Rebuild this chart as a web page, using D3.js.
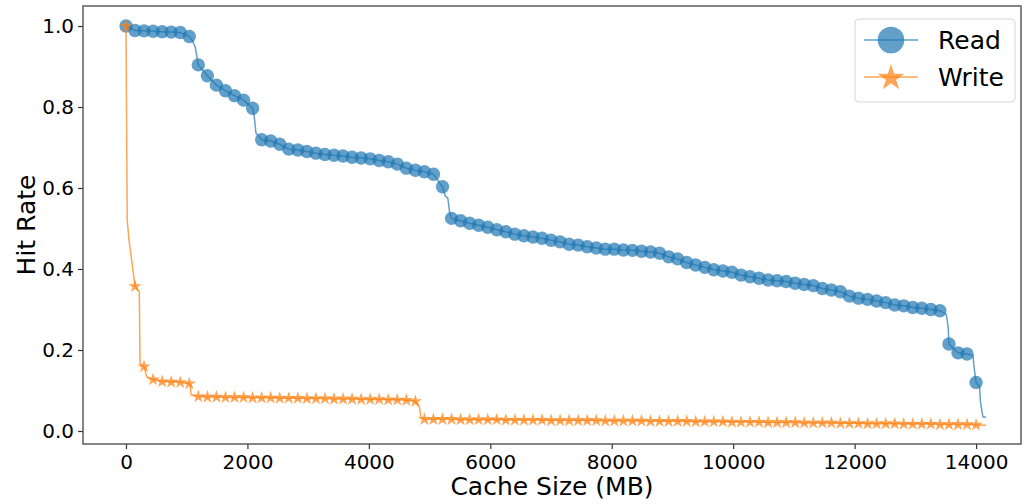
<!DOCTYPE html>
<html>
<head>
<meta charset="utf-8">
<title>Hit Rate vs Cache Size</title>
<style>
    body { margin : 0; background : white; }
    svg { font-family : "DejaVu Sans", sans-serif; }
    .frame { fill : none; stroke : #444; stroke-width : 1.3px; }
    .tick line { stroke : #333; stroke-width : 1.2px; }
    .tick text { fill : black; font-size : 20px; }
    .axislabel { fill : black; font-size : 25px; }
    .readline { fill : none; stroke : #1f77b4; stroke-width : 1.5px; opacity : .7; }
    .writeline { fill : none; stroke : #ff7f0e; stroke-width : 1.5px; opacity : .7; }
    .readmark { fill : #1f77b4; opacity : .7; }
    .writemark { fill : #ff7f0e; opacity : .7; }
    .legendbox { fill : white; fill-opacity : .8; stroke : #d6d6d6; stroke-width : 1px; }
    .legendtext { fill : black; font-size : 25px; }
</style>
</head>
<body>
<script src="https://cdn.jsdelivr.net/npm/d3@7/dist/d3.min.js"></script>
<script>

var SVGwidth = 1024, SVGheight = 504;
var plotLeft = 83, plotRight = 1021, plotTop = 6, plotBottom = 444;

// marker positions: 95 evenly spaced samples from 0 to 14000 MB
var cacheSize = d3.range(95).map(function(i) { return i * 14000 / 94; });

var readHit = [
    1.000, 0.989, 0.988, 0.987, 0.986, 0.985, 0.984, 0.974, 0.904, 0.877,
    0.854, 0.840, 0.828, 0.817, 0.797, 0.719, 0.716, 0.708, 0.696, 0.694,
    0.690, 0.686, 0.683, 0.681, 0.679, 0.676, 0.674, 0.672, 0.668, 0.665,
    0.659, 0.649, 0.644, 0.640, 0.634, 0.603, 0.525, 0.519, 0.513, 0.508,
    0.503, 0.497, 0.492, 0.486, 0.482, 0.479, 0.476, 0.471, 0.467, 0.461,
    0.459, 0.455, 0.452, 0.449, 0.449, 0.447, 0.446, 0.444, 0.442, 0.439,
    0.430, 0.425, 0.416, 0.410, 0.404, 0.398, 0.395, 0.392, 0.385, 0.381,
    0.377, 0.373, 0.371, 0.369, 0.365, 0.362, 0.359, 0.352, 0.348, 0.344,
    0.333, 0.328, 0.325, 0.321, 0.317, 0.311, 0.309, 0.305, 0.303, 0.300,
    0.297, 0.215, 0.193, 0.190, 0.120
];

var writeHit = [
    1.000, 0.357, 0.159, 0.127, 0.122, 0.121, 0.120, 0.117, 0.085, 0.084,
    0.084, 0.083, 0.083, 0.083, 0.082, 0.082, 0.082, 0.081, 0.081, 0.081,
    0.080, 0.080, 0.080, 0.079, 0.079, 0.079, 0.078, 0.078, 0.078, 0.077,
    0.077, 0.076, 0.073, 0.029, 0.029, 0.029, 0.029, 0.028, 0.028, 0.028,
    0.028, 0.028, 0.027, 0.027, 0.027, 0.027, 0.027, 0.026, 0.026, 0.026,
    0.026, 0.026, 0.026, 0.025, 0.025, 0.025, 0.025, 0.025, 0.024, 0.024,
    0.024, 0.024, 0.024, 0.023, 0.023, 0.023, 0.023, 0.022, 0.022, 0.022,
    0.022, 0.021, 0.021, 0.021, 0.021, 0.020, 0.020, 0.020, 0.020, 0.019,
    0.019, 0.019, 0.018, 0.018, 0.018, 0.018, 0.017, 0.017, 0.017, 0.017,
    0.016, 0.016, 0.016, 0.016, 0.015
];

// extra line points between markers (the steep steps and the tails)
var readSteps = [
    [1100, 0.962], [1140, 0.948], [2110, 0.780], [2140, 0.736],
    [5260, 0.580], [5300, 0.575], [5330, 0.540], [13510, 0.288],
    [13540, 0.258], [13950, 0.187], [13965, 0.160], [14057, 0.109],
    [14073, 0.072], [14112, 0.035], [14166, 0.034]
];
var writeSteps = [
    [20, 0.521], [50, 0.472], [219, 0.344], [231, 0.167], [341, 0.134],
    [1060, 0.113], [1070, 0.089], [4830, 0.060], [4860, 0.035], [14166, 0.014]
];

var xTicks = [0, 2000, 4000, 6000, 8000, 10000, 12000, 14000];
var yTicks = [0.0, 0.2, 0.4, 0.6, 0.8, 1.0];

var x = d3.scaleLinear().domain([-708, 14740]).range([plotLeft, plotRight]);
var y = d3.scaleLinear().domain([-0.0321, 1.0494]).range([plotBottom, plotTop]);

var svg = d3.select("body").append("svg")
        .attr("width", SVGwidth)
        .attr("height", SVGheight);

//axes
svg.append("g")
        .attr("transform", "translate(0," + plotBottom + ")")
        .call(d3.axisBottom(x).tickValues(xTicks).tickFormat(d3.format("d")).tickSize(5).tickPadding(6))
        .call(function(g) { g.select(".domain").remove(); });

svg.append("g")
        .attr("transform", "translate(" + plotLeft + ",0)")
        .call(d3.axisLeft(y).tickValues(yTicks).tickFormat(d3.format(".1f")).tickSize(5).tickPadding(4))
        .call(function(g) { g.select(".domain").remove(); });

svg.selectAll("g").attr("font-family", null).attr("font-size", null);

svg.append("text")
        .attr("class", "axislabel")
        .attr("x", (plotLeft + plotRight) / 2)
        .attr("y", 495)
        .attr("text-anchor", "middle")
        .text("Cache Size (MB)");

svg.append("text")
        .attr("class", "axislabel")
        .attr("transform", "translate(35," + ((plotTop + plotBottom) / 2) + ") rotate(-90)")
        .attr("text-anchor", "middle")
        .text("Hit Rate");

//lines: markers plus the step points, sorted by size
function linePoints(values, steps) {
    var pts = cacheSize.map(function(c, i) { return [c, values[i]]; }).concat(steps);
    return pts.sort(function(a, b) { return a[0] - b[0]; });
}
var line = d3.line()
        .x(function(d) { return x(d[0]); })
        .y(function(d) { return y(d[1]); });

function starPath(R) {
    var pts = [];
    for (var k = 0; k < 10; k++) {
        var r = k % 2 ? R * 0.382 : R;
        var a = -Math.PI / 2 + k * Math.PI / 5;
        pts.push([r * Math.cos(a), r * Math.sin(a)]);
    }
    return "M" + pts.join("L") + "Z";
}

var plot = svg.append("g");

plot.append("path")
        .attr("class", "readline")
        .attr("d", line(linePoints(readHit, readSteps)));

plot.selectAll(".readmark")
        .data(readHit)
        .enter().append("circle")
        .attr("class", "readmark")
        .attr("cx", function(d, i) { return x(cacheSize[i]); })
        .attr("cy", function(d) { return y(d); })
        .attr("r", 6.7);

plot.append("path")
        .attr("class", "writeline")
        .attr("d", line(linePoints(writeHit, writeSteps)));

plot.selectAll(".writemark")
        .data(writeHit)
        .enter().append("path")
        .attr("class", "writemark")
        .attr("transform", function(d, i) { return "translate(" + x(cacheSize[i]) + "," + y(d) + ")"; })
        .attr("d", starPath(7));

//frame
svg.append("rect")
        .attr("class", "frame")
        .attr("x", plotLeft)
        .attr("y", plotTop)
        .attr("width", plotRight - plotLeft)
        .attr("height", plotBottom - plotTop);

//legend
var legend = svg.append("g");
legend.append("rect")
        .attr("class", "legendbox")
        .attr("x", 855).attr("y", 19)
        .attr("width", 160).attr("height", 83)
        .attr("rx", 4);

var entries = [
    {name: "Read", cls: "read", cy: 40},
    {name: "Write", cls: "write", cy: 77}
];
entries.forEach(function(e) {
    legend.append("line")
            .attr("class", e.cls + "line")
            .attr("x1", 864).attr("x2", 918)
            .attr("y1", e.cy).attr("y2", e.cy);
    if (e.cls == "read") {
        legend.append("circle")
                .attr("class", "readmark")
                .attr("cx", 891).attr("cy", e.cy).attr("r", 13.3);
    } else {
        legend.append("path")
                .attr("class", "writemark")
                .attr("transform", "translate(891," + (e.cy + 1) + ")")
                .attr("d", starPath(14));
    }
    legend.append("text")
            .attr("class", "legendtext")
            .attr("x", 938)
            .attr("y", e.cy)
            .attr("dy", "0.36em")
            .text(e.name);
});

</script>
</body>
</html>
